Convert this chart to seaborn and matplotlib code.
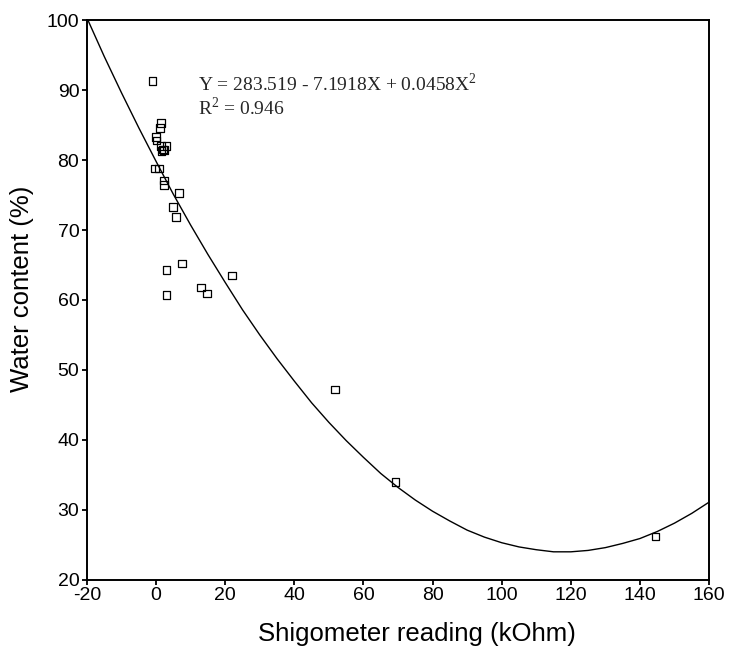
import matplotlib
matplotlib.use("Agg")
import matplotlib.pyplot as plt
import numpy as np
import pandas as pd
import seaborn as sns

sns.set_theme(style="ticks")
plt.rcParams['font.family'] = ['Liberation Sans', 'DejaVu Sans']
plt.rcParams['axes.unicode_minus'] = False
plt.rcParams['mathtext.fontset'] = 'custom'
plt.rcParams['mathtext.rm'] = 'Liberation Serif'

# measured points (kOhm, %)
shigo = [-1.1, 1.4, 1.1, -0.1, 0.1, 1.4, 3.0, 2.0, 1.6, 2.3, -0.4, 0.9,
         2.3, 2.2, 6.6, 4.8, 5.8, 7.5, 3.0, 21.9, 13.0, 14.8, 3.0,
         51.7, 69.3, 144.5]
water = [91.3, 85.3, 84.6, 83.3, 82.8, 82.0, 82.0, 81.5, 81.3, 81.4, 78.8, 78.8,
         77.1, 76.4, 75.3, 73.3, 71.9, 65.2, 64.3, 63.5, 61.8, 60.9, 60.7,
         47.2, 34.0, 26.2]

# fitted curve
curve_x = list(range(-20, 161, 5))
curve_y = [100.3, 94.8, 89.6, 84.6, 79.8, 75.1, 70.7, 66.5, 62.5, 58.6, 55.0,
           51.6, 48.4, 45.3, 42.5, 39.9, 37.5, 35.2, 33.2, 31.4, 29.8, 28.4,
           27.1, 26.1, 25.3, 24.7, 24.3, 24.0, 24.0, 24.2, 24.6, 25.2, 25.9,
           26.9, 28.1, 29.5, 31.1]

pts = pd.DataFrame({"x": shigo, "y": water})
fit = pd.DataFrame({"x": curve_x, "y": curve_y})

fig = plt.figure(figsize=(7.31, 6.5), dpi=100)
ax = fig.add_axes([0.119, 0.108, 0.851, 0.861])

sns.lineplot(data=fit, x="x", y="y", ax=ax, color="black", linewidth=1.0)
sns.scatterplot(data=pts, x="x", y="y", ax=ax, marker="s", s=30,
                facecolor="none", edgecolor="black", linewidth=0.9)

ax.set_xlim(-20, 160)
ax.set_ylim(20, 100)
ax.set_xticks(np.arange(-20, 161, 20))
ax.set_yticks(np.arange(20, 101, 10))
ax.tick_params(labelsize=14, length=3.5, width=1.3, pad=2, direction="out", colors="black")
for sp in ax.spines.values():
    sp.set_linewidth(1.4)
    sp.set_color("black")

ax.set_xlabel("Shigometer reading (kOhm)", fontsize=18.5, color="black")
ax.set_ylabel("Water content (%)", fontsize=18.5, color="black")
ax.xaxis.set_label_coords(0.53, -0.075)
ax.yaxis.set_label_coords(-0.085, 0.52)

ax.text(12.1, 90.9, "Y = 283.519 - 7.1918X + 0.0458X$^2$", fontsize=14,
        family="Liberation Serif", va="center")
ax.text(12.1, 87.5, "R$^2$ = 0.946", fontsize=14, family="Liberation Serif", va="center")

fig.savefig("out.png", dpi=100)
